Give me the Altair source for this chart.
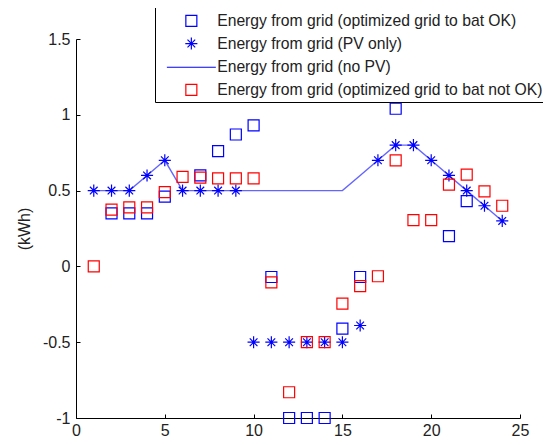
import altair as alt
import pandas as pd

hours = list(range(1, 25))
series_names = [
    "Energy from grid (optimized grid to bat OK)",
    "Energy from grid (PV only)",
    "Energy from grid (no PV)",
    "Energy from grid (optimized grid to bat not OK)",
]
grid_bat_ok = [None, 0.35, 0.35, 0.35, 0.46, None, 0.60, 0.76, 0.87, 0.93, -0.07, -1.0,
               -1.0, -1.0, -0.41, -0.07, None, 1.04, None, None, 0.20, 0.43, None, None]
pv_only = [0.5, 0.5, 0.5, 0.6, 0.7, 0.5, 0.5, 0.5, 0.5, -0.5, -0.5, -0.5,
           -0.5, -0.5, -0.5, -0.39, 0.7, 0.8, 0.8, 0.7, 0.6, 0.5, 0.4, 0.3]
no_pv = [0.5, 0.5, 0.5, 0.6, 0.7, 0.5, 0.5, 0.5, 0.5, 0.5, 0.5, 0.5,
         0.5, 0.5, 0.5, 0.6, 0.7, 0.8, 0.8, 0.7, 0.6, 0.5, 0.4, 0.3]
grid_bat_not_ok = [0.0, 0.375, 0.39, 0.39, 0.49, 0.59, 0.585, 0.58, 0.58, 0.58, -0.105, -0.83,
                   -0.5, -0.5, -0.245, -0.13, -0.065, 0.70, 0.305, 0.305, 0.54, 0.605, 0.495, 0.40]
x_ticks = [0, 5, 10, 15, 20, 25]
y_ticks = [-1, -0.5, 0, 0.5, 1, 1.5]

ASTERISK = "M-1.1,0L1.1,0M0,-1.1L0,1.1M-0.7,-0.7L0.7,0.7M-0.7,0.7L0.7,-0.7"
LINE_SYM = "M-4.45,0L4.45,0"

pts = []
for name, vals in [(series_names[0], grid_bat_ok), (series_names[1], pv_only),
                   (series_names[3], grid_bat_not_ok)]:
    for h, v in zip(hours, vals):
        if v is not None:
            pts.append({"hour": h, "value": v, "series": name})
points_df = pd.DataFrame(pts)
line_df = pd.DataFrame({"hour": hours, "value": no_pv})

FONT = "Liberation Sans"
TXT = "#222222"
FS = 16
W, H = 444, 379

xscale = alt.Scale(domain=[0, 25], nice=False, zero=False)
yscale = alt.Scale(domain=[-1, 1.5], nice=False, zero=False)

main_x_axis = alt.Axis(values=x_ticks, tickSize=0, labelPadding=4, grid=False, title=None,
                       domainColor="black", labelFont=FONT, labelFontSize=FS, labelColor=TXT,
                       labelFlush=False, labelExpr="'' + datum.value")
main_y_axis = alt.Axis(values=y_ticks, tickSize=0, labelPadding=6, grid=False, title="(kWh)",
                       domainColor="black", labelFont=FONT, labelFontSize=FS, labelColor=TXT,
                       labelFlush=False, labelExpr="'' + datum.value", titleFont=FONT,
                       titleFontSize=FS, titleFontWeight="normal", titleColor=TXT,
                       titlePadding=10)

in_x_axis = alt.Axis(values=x_ticks, orient="top", offset=-H, tickSize=4, labels=False,
                     domain=False, grid=False, title=None, tickColor="black")
in_y_axis = alt.Axis(values=y_ticks, orient="right", offset=-W, tickSize=4, labels=False,
                     domain=False, grid=False, title=None, tickColor="black")

line = alt.Chart(line_df).mark_line(color="#3d3dff", strokeWidth=1.4, opacity=0.8).encode(
    x=alt.X("hour:Q", scale=xscale, axis=main_x_axis),
    y=alt.Y("value:Q", scale=yscale, axis=main_y_axis),
)

legend = alt.Legend(title=" ", titleFontSize=10, titlePadding=4,
                    orient="none", legendX=79, legendY=-44, padding=4,
                    symbolOffset=24.5, labelOffset=18, strokeColor="black", fillColor="white",
                    labelFont=FONT, labelFontSize=15.7, labelColor=TXT, labelLimit=500,
                    symbolSize=121, symbolStrokeWidth=1.2, rowPadding=5.7, cornerRadius=0)

points = alt.Chart(points_df).mark_point(filled=False, size=121, strokeWidth=1.2, opacity=1).encode(
    x=alt.X("hour:Q", scale=xscale, axis=in_x_axis),
    y=alt.Y("value:Q", scale=yscale, axis=in_y_axis),
    color=alt.Color("series:N", scale=alt.Scale(domain=series_names,
                    range=["#0000ff", "#0000ff", "#0000ff", "#ff0000"]), legend=legend),
    shape=alt.Shape("series:N", scale=alt.Scale(domain=series_names,
                    range=["square", ASTERISK, LINE_SYM, "square"]), legend=legend),
)

chart = alt.layer(line, points).resolve_axis(x="independent", y="independent").properties(
    width=W, height=H,
    autosize=alt.AutoSizeParams(type="none"),
    padding={"left": 68, "top": 31, "right": 23, "bottom": 19},
    background="white",
).configure_view(strokeWidth=0)

chart.save("out.html", embed_options={"renderer": "svg", "actions": False})
